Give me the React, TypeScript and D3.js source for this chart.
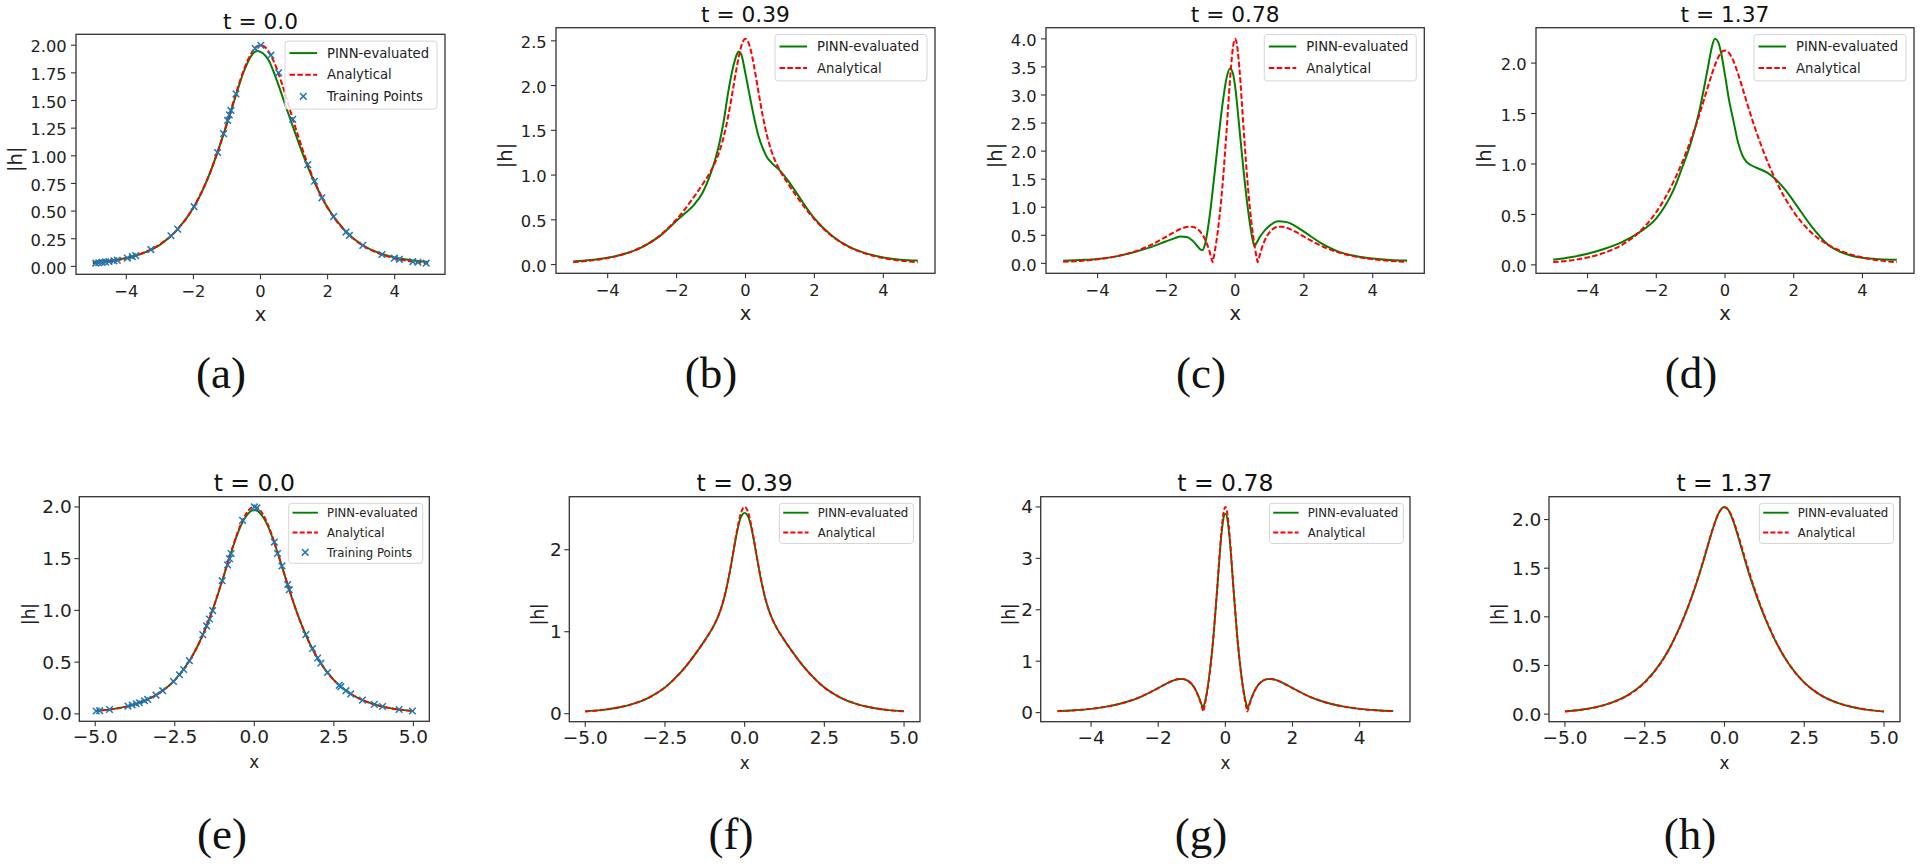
import React from "react";
import * as d3 from "d3";

// ---------------- data ----------------
// shared x grid for analytical curves and bottom-row PINN curves
const XS = [-5, -4.5, -4, -3.5, -3, -2.5, -2, -1.75, -1.5, -1.375, -1.25, -1.125, -1, -0.875, -0.75, -0.6875, -0.65625, -0.625, -0.5625, -0.5, -0.375, -0.25, -0.125, -0.0625, 0, 0.0625, 0.125, 0.25, 0.375, 0.5, 0.5625, 0.625, 0.65625, 0.6875, 0.75, 0.875, 1, 1.125, 1.25, 1.375, 1.5, 1.75, 2, 2.5, 3, 3.5, 4, 4.5, 5];

const ANALYTICAL_T000 = [0.027, 0.044, 0.073, 0.121, 0.199, 0.326, 0.532, 0.675, 0.850, 0.951, 1.059, 1.176, 1.296, 1.421, 1.545, 1.605, 1.635, 1.664, 1.721, 1.774, 1.867, 1.939, 1.985, 1.996, 2.000, 1.996, 1.985, 1.939, 1.867, 1.774, 1.721, 1.664, 1.635, 1.605, 1.545, 1.421, 1.296, 1.176, 1.059, 0.951, 0.850, 0.675, 0.532, 0.326, 0.199, 0.121, 0.073, 0.044, 0.027];
const ANALYTICAL_T039 = [0.027, 0.044, 0.073, 0.120, 0.197, 0.320, 0.506, 0.623, 0.754, 0.823, 0.894, 0.968, 1.050, 1.147, 1.272, 1.350, 1.393, 1.440, 1.545, 1.662, 1.932, 2.213, 2.436, 2.500, 2.522, 2.500, 2.436, 2.213, 1.932, 1.662, 1.545, 1.440, 1.393, 1.350, 1.272, 1.147, 1.050, 0.968, 0.894, 0.823, 0.754, 0.623, 0.506, 0.320, 0.197, 0.120, 0.073, 0.044, 0.027];
const ANALYTICAL_T078 = [0.027, 0.044, 0.073, 0.120, 0.196, 0.313, 0.477, 0.565, 0.635, 0.654, 0.652, 0.623, 0.553, 0.427, 0.222, 0.080, 0.022, 0.103, 0.322, 0.594, 1.335, 2.357, 3.465, 3.855, 4.000, 3.855, 3.465, 2.357, 1.335, 0.594, 0.322, 0.103, 0.022, 0.080, 0.222, 0.427, 0.553, 0.623, 0.652, 0.654, 0.635, 0.565, 0.477, 0.313, 0.196, 0.120, 0.073, 0.044, 0.027];
const ANALYTICAL_T137 = [0.027, 0.044, 0.073, 0.121, 0.198, 0.324, 0.524, 0.659, 0.822, 0.914, 1.013, 1.119, 1.233, 1.354, 1.484, 1.552, 1.586, 1.621, 1.692, 1.762, 1.898, 2.016, 2.097, 2.118, 2.125, 2.118, 2.097, 2.016, 1.898, 1.762, 1.692, 1.621, 1.586, 1.552, 1.484, 1.354, 1.233, 1.119, 1.013, 0.914, 0.822, 0.659, 0.524, 0.324, 0.198, 0.121, 0.073, 0.044, 0.027];

// top row PINN (poorer fit)
const PINN_A_X = [-5, -4.5, -4, -3.5, -3, -2.5, -2, -1.75, -1.5, -1.25, -1, -0.75, -0.5, -0.25, -0.1, 0, 0.25, 0.5, 0.75, 1, 1.25, 1.5, 1.75, 2, 2.5, 3, 3.5, 4, 4.5, 5];
const PINN_A_Y = [0.04, 0.05, 0.075, 0.12, 0.195, 0.325, 0.53, 0.672, 0.85, 1.06, 1.29, 1.53, 1.76, 1.915, 1.948, 1.94, 1.86, 1.67, 1.45, 1.235, 1.025, 0.835, 0.67, 0.53, 0.33, 0.2, 0.125, 0.08, 0.055, 0.04];

const PINN_B_X = [-5, -4.5, -4, -3.5, -3, -2.5, -2, -1.75, -1.5, -1.25, -1, -0.875, -0.75, -0.625, -0.5, -0.375, -0.25, -0.2, -0.125, 0, 0.125, 0.25, 0.375, 0.5, 0.625, 0.75, 1, 1.25, 1.5, 1.75, 2, 2.5, 3, 3.5, 4, 4.5, 5];
const PINN_B_Y = [0.035, 0.05, 0.075, 0.12, 0.195, 0.315, 0.49, 0.575, 0.665, 0.80, 1.03, 1.18, 1.37, 1.62, 1.93, 2.18, 2.35, 2.38, 2.35, 2.13, 1.88, 1.64, 1.44, 1.3, 1.2, 1.14, 1.05, 0.93, 0.79, 0.645, 0.515, 0.325, 0.2, 0.125, 0.08, 0.055, 0.045];

const PINN_C_X = [-5, -4.5, -4, -3.5, -3, -2.5, -2, -1.75, -1.6, -1.4, -1.25, -1.1, -1, -0.95, -0.875, -0.75, -0.625, -0.5, -0.375, -0.25, -0.15, -0.0625, 0, 0.125, 0.25, 0.375, 0.5, 0.56, 0.625, 0.75, 1, 1.25, 1.5, 1.75, 2, 2.5, 3, 3.5, 4, 4.5, 5];
const PINN_C_Y = [0.045, 0.06, 0.08, 0.12, 0.19, 0.28, 0.395, 0.45, 0.478, 0.47, 0.41, 0.31, 0.245, 0.235, 0.34, 0.8, 1.45, 2.15, 2.8, 3.3, 3.47, 3.38, 3.15, 2.4, 1.62, 0.95, 0.45, 0.31, 0.37, 0.5, 0.67, 0.75, 0.735, 0.665, 0.565, 0.36, 0.21, 0.13, 0.085, 0.06, 0.05];

const PINN_D_X = [-5, -4.5, -4, -3.5, -3, -2.5, -2, -1.75, -1.5, -1.25, -1, -0.75, -0.5, -0.375, -0.29, -0.2, -0.125, 0, 0.125, 0.25, 0.375, 0.5, 0.625, 0.75, 1, 1.25, 1.5, 1.75, 2, 2.5, 3, 3.5, 4, 4.5, 5];
const PINN_D_Y = [0.05, 0.075, 0.11, 0.16, 0.225, 0.32, 0.46, 0.58, 0.74, 0.96, 1.2, 1.52, 1.95, 2.17, 2.24, 2.21, 2.12, 1.88, 1.62, 1.42, 1.22, 1.09, 1.02, 0.99, 0.95, 0.91, 0.84, 0.745, 0.63, 0.39, 0.2, 0.11, 0.07, 0.055, 0.05];

// bottom row PINN (close fit), on shared grid XS
const PINN_E_Y = [0.027, 0.044, 0.073, 0.121, 0.199, 0.326, 0.532, 0.675, 0.850, 0.950, 1.058, 1.175, 1.294, 1.418, 1.540, 1.598, 1.627, 1.655, 1.710, 1.760, 1.848, 1.912, 1.955, 1.966, 1.970, 1.966, 1.955, 1.912, 1.848, 1.760, 1.710, 1.655, 1.627, 1.598, 1.540, 1.418, 1.294, 1.175, 1.058, 0.950, 0.850, 0.675, 0.532, 0.326, 0.199, 0.121, 0.073, 0.044, 0.027];
const PINN_F_Y = [0.030, 0.044, 0.073, 0.120, 0.197, 0.320, 0.506, 0.623, 0.754, 0.823, 0.894, 0.968, 1.050, 1.147, 1.272, 1.350, 1.393, 1.440, 1.545, 1.660, 1.925, 2.195, 2.390, 2.435, 2.450, 2.435, 2.390, 2.195, 1.925, 1.660, 1.545, 1.440, 1.393, 1.350, 1.272, 1.147, 1.050, 0.968, 0.894, 0.823, 0.754, 0.623, 0.506, 0.320, 0.197, 0.120, 0.073, 0.044, 0.030];
const PINN_G_Y = [0.030, 0.046, 0.073, 0.120, 0.196, 0.313, 0.477, 0.565, 0.635, 0.654, 0.652, 0.623, 0.553, 0.427, 0.235, 0.125, 0.110, 0.165, 0.350, 0.610, 1.335, 2.340, 3.400, 3.750, 3.870, 3.750, 3.400, 2.340, 1.335, 0.610, 0.350, 0.165, 0.110, 0.125, 0.235, 0.427, 0.553, 0.623, 0.652, 0.654, 0.635, 0.565, 0.477, 0.313, 0.196, 0.120, 0.073, 0.046, 0.030];
const PINN_H_Y = [0.028, 0.045, 0.074, 0.123, 0.201, 0.328, 0.528, 0.662, 0.824, 0.915, 1.012, 1.117, 1.229, 1.349, 1.478, 1.546, 1.580, 1.615, 1.686, 1.757, 1.895, 2.015, 2.098, 2.122, 2.130, 2.120, 2.095, 2.005, 1.880, 1.742, 1.672, 1.600, 1.565, 1.530, 1.462, 1.335, 1.218, 1.108, 1.005, 0.908, 0.818, 0.657, 0.523, 0.324, 0.198, 0.121, 0.073, 0.044, 0.027];

// training points
const TRAIN_A_X = [-4.91, -4.82, -4.72, -4.62, -4.52, -4.37, -4.27, -3.97, -3.82, -3.72, -3.27, -2.67, -2.47, -1.98, -1.28, -1.10, -0.98, -0.93, -0.88, -0.73, -0.16, 0.01, 0.31, 0.54, 0.96, 1.41, 1.61, 1.83, 2.18, 2.55, 2.65, 3.05, 3.62, 3.99, 4.14, 4.54, 4.69, 4.94];
const TRAIN_A_Y = [0.030, 0.033, 0.036, 0.040, 0.044, 0.050, 0.056, 0.075, 0.088, 0.097, 0.152, 0.277, 0.337, 0.540, 1.030, 1.200, 1.320, 1.370, 1.410, 1.560, 1.970, 2.000, 1.910, 1.750, 1.330, 0.920, 0.770, 0.620, 0.450, 0.310, 0.280, 0.190, 0.107, 0.074, 0.064, 0.043, 0.037, 0.029];
const TRAIN_E_X = [-4.97, -4.86, -4.55, -3.97, -3.84, -3.71, -3.61, -3.45, -3.35, -3.09, -2.88, -2.54, -2.35, -2.22, -2.04, -1.62, -1.50, -1.41, -1.31, -1.01, -0.84, -0.78, -0.73, -0.37, 0.00, 0.08, 0.63, 0.73, 0.87, 1.05, 1.10, 1.62, 1.83, 1.99, 2.09, 2.30, 2.67, 2.72, 2.88, 3.03, 3.40, 3.77, 4.03, 4.55, 4.97];
const TRAIN_E_Y = [0.028, 0.031, 0.042, 0.075, 0.086, 0.098, 0.108, 0.127, 0.140, 0.182, 0.224, 0.313, 0.378, 0.429, 0.514, 0.766, 0.850, 0.917, 0.998, 1.287, 1.440, 1.500, 1.550, 1.870, 2.000, 1.990, 1.660, 1.550, 1.430, 1.250, 1.200, 0.766, 0.632, 0.540, 0.490, 0.400, 0.276, 0.263, 0.224, 0.193, 0.133, 0.092, 0.071, 0.042, 0.028];

// ticks
const X_TICKS_INT = [-4, -2, 0, 2, 4];
const X_TICKS_HALF = [-5, -2.5, 0, 2.5, 5];
const Y_TICKS_A = [0, 0.25, 0.5, 0.75, 1.0, 1.25, 1.5, 1.75, 2.0];
const Y_TICKS_B = [0, 0.5, 1.0, 1.5, 2.0, 2.5];
const Y_TICKS_C = [0, 0.5, 1.0, 1.5, 2.0, 2.5, 3.0, 3.5, 4.0];
const Y_TICKS_D = [0, 0.5, 1.0, 1.5, 2.0];
const Y_TICKS_E = [0, 0.5, 1.0, 1.5, 2.0];
const Y_TICKS_F = [0, 1, 2];
const Y_TICKS_G = [0, 1, 2, 3, 4];
const Y_TICKS_H = [0, 0.5, 1.0, 1.5, 2.0];

const TITLES = ["t = 0.0", "t = 0.39", "t = 0.78", "t = 1.37", "t = 0.0", "t = 0.39", "t = 0.78", "t = 1.37"];
const LETTERS = ["(a)", "(b)", "(c)", "(d)", "(e)", "(f)", "(g)", "(h)"];
const LEGEND_PINN = "PINN-evaluated";
const LEGEND_ANA = "Analytical";
const LEGEND_TRAIN = "Training Points";

// ---------------- styling / layout ----------------
const GREEN = "#008000";
const RED = "#ff0000";
const BLUE = "#1f77b4";
const SPINE = "#333333";
const SANS = "'DejaVu Sans', sans-serif";
const SERIF = "'Liberation Serif', 'DejaVu Serif', serif";

const ROW_STYLE: any = {
  top: { tick: 16.3, label: 19.5, title: 21.7, legend: 13.2, tickBase: 0.44, yGap: 9.3, xBase: 22.2, xlabBase: 46.5, legW: 152, rowH: 21.6, legTop: 12, legPadB: 12.8, lx0: 4.5, lx1: 32, tx: 42, legR: 8, legT: 6.8, lw: 2 },
  bottom: { tick: 18.5, label: 16.8, title: 23.5, legend: 11.7, tickBase: 0.35, yGap: 7.6, xBase: 22.0, xlabBase: 47, legW: 134, rowH: 19.8, legTop: 9.4, legPadB: 11, lx0: 3.8, lx1: 29.2, tx: 38.4, legR: 6.6, legT: 6.6, lw: 1.9 },
};

type Panel = {
  row: "top" | "bottom";
  box: [number, number, number, number];
  titleY: number;
  ylabX: number;
  letterX: number;
  letterY: number;
  title: string;
  letter: string;
  yTicks: number[];
  yFmt: string;
  xTicks: number[];
  xFmt: string;
  pinnX: number[];
  pinnY: number[];
  anaX: number[];
  anaY: number[];
  trainX?: number[];
  trainY?: number[];
};

const PANELS: Panel[] = [
  { row: "top", box: [76, 445, 34.3, 274.3], titleY: 29, ylabX: 22.2, letterX: 221, letterY: 388, title: TITLES[0], letter: LETTERS[0], yTicks: Y_TICKS_A, yFmt: ".2f", xTicks: X_TICKS_INT, xFmt: "d", pinnX: PINN_A_X, pinnY: PINN_A_Y, anaX: XS, anaY: ANALYTICAL_T000, trainX: TRAIN_A_X, trainY: TRAIN_A_Y },
  { row: "top", box: [556, 935, 27.7, 273.3], titleY: 21.7, ylabX: 512, letterX: 711, letterY: 388, title: TITLES[1], letter: LETTERS[1], yTicks: Y_TICKS_B, yFmt: ".1f", xTicks: X_TICKS_INT, xFmt: "d", pinnX: PINN_B_X, pinnY: PINN_B_Y, anaX: XS, anaY: ANALYTICAL_T039 },
  { row: "top", box: [1046, 1424.3, 27.7, 273.3], titleY: 21.7, ylabX: 1002, letterX: 1201, letterY: 388, title: TITLES[2], letter: LETTERS[2], yTicks: Y_TICKS_C, yFmt: ".1f", xTicks: X_TICKS_INT, xFmt: "d", pinnX: PINN_C_X, pinnY: PINN_C_Y, anaX: XS, anaY: ANALYTICAL_T078 },
  { row: "top", box: [1536, 1914, 27.7, 273.3], titleY: 21.7, ylabX: 1490.5, letterX: 1691, letterY: 388, title: TITLES[3], letter: LETTERS[3], yTicks: Y_TICKS_D, yFmt: ".1f", xTicks: X_TICKS_INT, xFmt: "d", pinnX: PINN_D_X, pinnY: PINN_D_Y, anaX: XS, anaY: ANALYTICAL_T137 },
  { row: "bottom", box: [79.3, 429.3, 496.7, 721.3], titleY: 490.7, ylabX: 35.4, letterX: 222, letterY: 848.5, title: TITLES[4], letter: LETTERS[4], yTicks: Y_TICKS_E, yFmt: ".1f", xTicks: X_TICKS_HALF, xFmt: ".1f", pinnX: XS, pinnY: PINN_E_Y, anaX: XS, anaY: ANALYTICAL_T000, trainX: TRAIN_E_X, trainY: TRAIN_E_Y },
  { row: "bottom", box: [569.3, 920, 496.7, 721.7], titleY: 490.7, ylabX: 544.4, letterX: 731, letterY: 848.5, title: TITLES[5], letter: LETTERS[5], yTicks: Y_TICKS_F, yFmt: "d", xTicks: X_TICKS_HALF, xFmt: ".1f", pinnX: XS, pinnY: PINN_F_Y, anaX: XS, anaY: ANALYTICAL_T039 },
  { row: "bottom", box: [1040.7, 1410, 496.7, 721.7], titleY: 490.7, ylabX: 1015.4, letterX: 1201, letterY: 848.5, title: TITLES[6], letter: LETTERS[6], yTicks: Y_TICKS_G, yFmt: "d", xTicks: X_TICKS_INT, xFmt: "d", pinnX: XS, pinnY: PINN_G_Y, anaX: XS, anaY: ANALYTICAL_T078 },
  { row: "bottom", box: [1549, 1900, 496.7, 721.7], titleY: 490.7, ylabX: 1504.4, letterX: 1690, letterY: 848.5, title: TITLES[7], letter: LETTERS[7], yTicks: Y_TICKS_H, yFmt: ".1f", xTicks: X_TICKS_HALF, xFmt: ".1f", pinnX: XS, pinnY: PINN_H_Y, anaX: XS, anaY: ANALYTICAL_T137 },
];

function XMark({ cx, cy, r, w }: { cx: number; cy: number; r: number; w: number }) {
  return (
    <g stroke={BLUE} strokeWidth={w}>
      <line x1={cx - r} y1={cy - r} x2={cx + r} y2={cy + r} />
      <line x1={cx - r} y1={cy + r} x2={cx + r} y2={cy - r} />
    </g>
  );
}

function PanelView({ p }: { p: Panel }) {
  const s = ROW_STYLE[p.row];
  const [L, R, T, B] = p.box;
  const allX = [...p.pinnX, ...p.anaX, ...(p.trainX || [])];
  const allY = [...p.pinnY, ...p.anaY, ...(p.trainY || [])];
  const [x0, x1] = d3.extent(allX) as [number, number];
  const [y0, y1] = d3.extent(allY) as [number, number];
  const px = (x1 - x0) * 0.05;
  const py = (y1 - y0) * 0.05;
  const x = d3.scaleLinear().domain([x0 - px, x1 + px]).range([L, R]);
  const y = d3.scaleLinear().domain([y0 - py, y1 + py]).range([B, T]);
  const line = d3
    .line<[number, number]>()
    .x((d) => x(d[0]))
    .y((d) => y(d[1]))
    .curve(d3.curveMonotoneX);
  const pinnPts = p.pinnX.map((v, i) => [v, p.pinnY[i]] as [number, number]);
  const anaPts = p.anaX.map((v, i) => [v, p.anaY[i]] as [number, number]);
  const fy = d3.format(p.yFmt);
  const fx = d3.format(p.xFmt);
  const hasTrain = !!p.trainX;
  const nItems = hasTrain ? 3 : 2;
  const legH = s.legTop + (nItems - 1) * s.rowH + s.legPadB;
  const legX = R - s.legR - s.legW;
  const legY = T + s.legT;
  const dash = p.row === "top" ? "5.5,2.4" : "5,2.2";
  const cx = (L + R) / 2;
  const cy = (T + B) / 2;
  return (
    <g>
      {/* lines */}
      <path d={line(pinnPts) || ""} fill="none" stroke={GREEN} strokeWidth={s.lw} />
      <path d={line(anaPts) || ""} fill="none" stroke={RED} strokeWidth={s.lw} strokeDasharray={dash} />
      {hasTrain &&
        p.trainX!.map((v, i) => <XMark key={i} cx={x(v)} cy={y(p.trainY![i])} r={3.3} w={1.5} />)}
      {/* spines */}
      <rect x={L} y={T} width={R - L} height={B - T} fill="none" stroke={SPINE} strokeWidth={1.3} />
      {/* y ticks */}
      {p.yTicks.map((t) => (
        <g key={"y" + t}>
          <line x1={L - 5} x2={L} y1={y(t)} y2={y(t)} stroke={SPINE} strokeWidth={1.1} />
          <text x={L - s.yGap} y={y(t) + s.tick * s.tickBase} textAnchor="end" fontSize={s.tick} fill="#222">
            {fy(t)}
          </text>
        </g>
      ))}
      {/* x ticks */}
      {p.xTicks.map((t) => (
        <g key={"x" + t}>
          <line x1={x(t)} x2={x(t)} y1={B} y2={B + 5} stroke={SPINE} strokeWidth={1.1} />
          <text x={x(t)} y={B + s.xBase} textAnchor="middle" fontSize={s.tick} fill="#222">
            {fx(t)}
          </text>
        </g>
      ))}
      {/* labels */}
      <text x={cx} y={B + s.xlabBase} textAnchor="middle" fontSize={s.label} fill="#222">
        x
      </text>
      <text transform={`translate(${p.ylabX},${cy + 5}) rotate(-90)`} textAnchor="middle" fontSize={s.label} fill="#222">
        |h|
      </text>
      <text x={cx} y={p.titleY} textAnchor="middle" fontSize={s.title} fill="#111">
        {p.title}
      </text>
      {/* legend */}
      <g transform={`translate(${legX},${legY})`}>
        <rect x={0} y={0} width={s.legW} height={legH} rx={3} fill="white" fillOpacity={0.8} stroke="#d6d6d6" strokeWidth={1} />
        <line x1={s.lx0} x2={s.lx1} y1={s.legTop} y2={s.legTop} stroke={GREEN} strokeWidth={s.lw} />
        <text x={s.tx} y={s.legTop} dy="0.36em" fontSize={s.legend} fill="#222">
          {LEGEND_PINN}
        </text>
        <line x1={s.lx0} x2={s.lx1} y1={s.legTop + s.rowH} y2={s.legTop + s.rowH} stroke={RED} strokeWidth={s.lw} strokeDasharray={dash} />
        <text x={s.tx} y={s.legTop + s.rowH} dy="0.36em" fontSize={s.legend} fill="#222">
          {LEGEND_ANA}
        </text>
        {hasTrain && (
          <>
            <XMark cx={(s.lx0 + s.lx1) / 2} cy={s.legTop + 2 * s.rowH} r={3.3} w={1.5} />
            <text x={s.tx} y={s.legTop + 2 * s.rowH} dy="0.36em" fontSize={s.legend} fill="#222">
              {LEGEND_TRAIN}
            </text>
          </>
        )}
      </g>
      {/* subfigure letter */}
      <text x={p.letterX} y={p.letterY} textAnchor="middle" fontSize={45} fontFamily={SERIF} fill="#111">
        {p.letter}
      </text>
    </g>
  );
}

export default function App() {
  return (
    <svg
      width={1920}
      height={865}
      viewBox="0 0 1920 865"
      style={{ position: "absolute", left: 0, top: 0, display: "block", background: "white" }}
      fontFamily={SANS}
    >
      <rect x={0} y={0} width={1920} height={865} fill="white" />
      {PANELS.map((p, i) => (
        <PanelView key={i} p={p} />
      ))}
    </svg>
  );
}
